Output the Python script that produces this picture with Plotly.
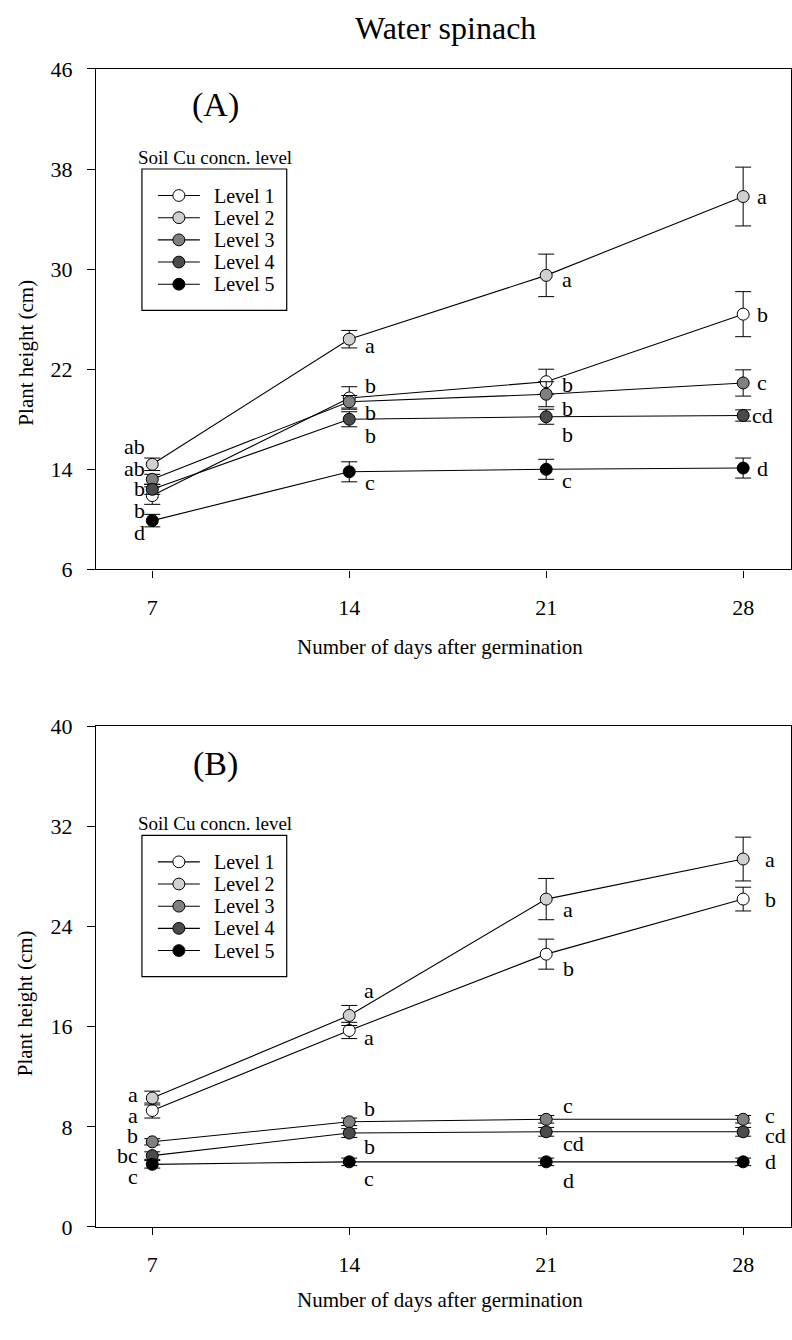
import plotly.graph_objects as go

# ---------------- data ----------------
days = [7, 14, 21, 28]
levels = ["Level 1", "Level 2", "Level 3", "Level 4", "Level 5"]

# Panel A
a_l1 = [11.9, 19.7, 21.0, 26.4]
a_l2 = [14.4, 24.4, 29.5, 35.8]
a_l3 = [13.2, 19.4, 20.0, 20.9]
a_l4 = [12.4, 18.0, 18.2, 18.3]
a_l5 = [9.9, 13.8, 14.0, 14.1]
a_l1_err = [0.7, 0.9, 1.0, 1.8]
a_l2_err = [0.5, 0.7, 1.7, 2.35]
a_l3_err = [0.4, 0.5, 1.0, 1.05]
a_l4_err = [0.4, 0.6, 0.6, 0.45]
a_l5_err = [0.5, 0.8, 0.8, 0.8]
a_l1_sig = ["b", "b", "b", "b"]
a_l2_sig = ["ab", "a", "a", "a"]
a_l3_sig = ["ab", "b", "b", "c"]
a_l4_sig = ["b", "b", "b", "cd"]
a_l5_sig = ["d", "c", "c", "d"]

# Panel B
b_l1 = [9.3, 15.7, 21.8, 26.2]
b_l2 = [10.3, 16.9, 26.2, 29.4]
b_l3 = [6.8, 8.4, 8.6, 8.6]
b_l4 = [5.7, 7.5, 7.6, 7.6]
b_l5 = [5.0, 5.2, 5.2, 5.2]
b_l1_err = [0.6, 0.65, 1.2, 0.95]
b_l2_err = [0.55, 0.8, 1.65, 1.75]
b_l3_err = [0.25, 0.3, 0.3, 0.3]
b_l4_err = [0.3, 0.35, 0.35, 0.35]
b_l5_err = [0.3, 0.3, 0.3, 0.3]
b_l1_sig = ["a", "a", "b", "b"]
b_l2_sig = ["a", "a", "a", "a"]
b_l3_sig = ["b", "b", "c", "c"]
b_l4_sig = ["bc", "b", "cd", "cd"]
b_l5_sig = ["c", "c", "d", "d"]

a_yticks = [6, 14, 22, 30, 38, 46]
b_yticks = [0, 8, 16, 24, 32, 40]

# ---------------- styling / layout ----------------
FONT = "Liberation Serif, Times New Roman, serif"
W, H, L = 792, 1340, 96
fills = ["#ffffff", "#d0d0d0", "#808080", "#4a4a4a", "#000000"]

A_TOP, A_BOT = 58, 568
B_TOP, B_BOT = 728, 1238
LEG_DB = 679  # vertical offset of panel B legend


def px_x(px):
    return (px - L) / (W - L)


def px_y(py):
    return 1 - py / H


# label offsets (px) per day index, per level index: (xanchor, dx, dy)
a_off = [
    [("right", -5, -15), ("right", -5, 18), ("right", -5, 11), ("right", -5, 1), ("right", -5, -12)],
    [("left", 14, 12), ("left", 14, -6), ("left", 14, -11), ("left", 14, -16), ("left", 14, -11)],
    [("left", 14, -3), ("left", 14, -4), ("left", 14, -14), ("left", 14, -18), ("left", 14, -11)],
    [("left", 12, 0), ("left", 12, 0), ("left", 12, 0), ("left", 7, 0), ("left", 12, 0)],
]
b_off = [
    [("right", -12, -5), ("right", -12, 4), ("right", -12, 6), ("right", -12, 0), ("right", -12, -12)],
    [("left", 13, -7), ("left", 13, 25), ("left", 13, 13), ("left", 13, -13), ("left", 13, -17)],
    [("left", 15, -14), ("left", 15, -10), ("left", 15, 14), ("left", 15, -12), ("left", 15, -19)],
    [("left", 20, 0), ("left", 20, 0), ("left", 20, 4), ("left", 20, -4), ("left", 20, 0)],
]

fig = go.Figure()
annotations = []

panels = [
    ("x", "y", [a_l1, a_l2, a_l3, a_l4, a_l5],
     [a_l1_err, a_l2_err, a_l3_err, a_l4_err, a_l5_err],
     [a_l1_sig, a_l2_sig, a_l3_sig, a_l4_sig, a_l5_sig], a_off),
    ("x2", "y2", [b_l1, b_l2, b_l3, b_l4, b_l5],
     [b_l1_err, b_l2_err, b_l3_err, b_l4_err, b_l5_err],
     [b_l1_sig, b_l2_sig, b_l3_sig, b_l4_sig, b_l5_sig], b_off),
]

for xa, ya, series, errs, sigs, offs in panels:
    for i in range(5):
        fig.add_trace(go.Scatter(
            x=days, y=series[i], name=levels[i], mode="lines+markers",
            xaxis=xa, yaxis=ya, showlegend=False,
            line=dict(color="black", width=1.1),
            marker=dict(size=12, color=fills[i], line=dict(color="black", width=1)),
            error_y=dict(type="data", array=errs[i], color="black", thickness=1, width=8),
        ))
        for j, d in enumerate(days):
            anc, dx, dy = offs[j][i]
            annotations.append(dict(
                x=d, y=series[i][j], xref=xa, yref=ya, text=sigs[i][j],
                showarrow=False, xanchor=anc, yanchor="middle",
                xshift=dx, yshift=dy,
                font=dict(family=FONT, size=22, color="black"),
            ))

axis_x = dict(
    showline=True, linecolor="black", linewidth=1.2, mirror=True,
    ticks="outside", tickcolor="black", ticklen=7, tickwidth=1,
    ticklabelstandoff=11,
    showgrid=False, zeroline=False,
    tickfont=dict(family=FONT, size=22, color="black"),
)
axis_y = dict(axis_x)
axis_y.update(ticklen=8, ticklabelstandoff=10)


def txt(text, x, y, size, anchor="center", **kw):
    annotations.append(dict(text=text, x=px_x(x), y=px_y(y), xref="paper", yref="paper",
                            showarrow=False, xanchor=anchor, yanchor="middle",
                            font=dict(family=FONT, size=size, color="black"), **kw))


shapes = []
txt("Water spinach", 446, 16, 32)
txt("(A)", 216, 95, 34)
txt("(B)", 216, 766, 34)
txt("Plant height (cm)", 25, 347, 21, textangle=-90)
txt("Plant height (cm)", 25, 1010, 21, textangle=-90)
txt("Number of days after germination", 440, 647, 21)
txt("Number of days after germination", 440, 1312, 21)

for off in [0, LEG_DB]:
    # legend (drawn manually to match the framed key with its title above)
    txt("Soil Cu concn. level", 215, 148 + off, 19)
    shapes.append(dict(type="rect", xref="paper", yref="paper",
                       x0=px_x(142), x1=px_x(287), y0=px_y(304 + off), y1=px_y(160 + off),
                       line=dict(color="black", width=1.2), fillcolor="rgba(0,0,0,0)"))
    for i in range(5):
        yy = 187 + i * 22.6 + off
        shapes.append(dict(type="line", xref="paper", yref="paper",
                           x0=px_x(158), x1=px_x(200), y0=px_y(yy), y1=px_y(yy),
                           line=dict(color="black", width=1.1)))
        shapes.append(dict(type="circle", xref="paper", yref="paper",
                           x0=px_x(173), x1=px_x(185), y0=px_y(yy + 6), y1=px_y(yy - 6),
                           line=dict(color="black", width=1), fillcolor=fills[i]))
        txt(levels[i], 212, yy, 20, anchor="left")

fig.update_layout(
    width=W, height=H, margin=dict(l=L, r=0, t=0, b=0),
    paper_bgcolor="white", plot_bgcolor="white",
    showlegend=False,
    xaxis=dict(domain=[0, 1], range=[5, 29.7], tickvals=days, anchor="y", **axis_x),
    yaxis=dict(domain=[px_y(A_BOT), px_y(A_TOP)], range=[6, 46], tickvals=a_yticks, anchor="x", **axis_y),
    xaxis2=dict(domain=[0, 1], range=[5, 29.7], tickvals=days, anchor="y2", **axis_x),
    yaxis2=dict(domain=[px_y(B_BOT), px_y(B_TOP)], range=[0, 40], tickvals=b_yticks, anchor="x2", **axis_y),
    annotations=annotations,
    shapes=shapes,
)

fig.write_html("out.html")
